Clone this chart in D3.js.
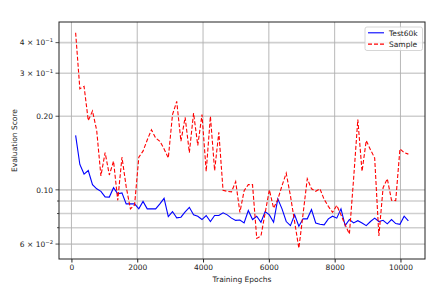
<!DOCTYPE html>
<html>
<head>
<meta charset="utf-8">
<script src="https://cdn.jsdelivr.net/npm/d3@7"></script>
<style>
  body { margin: 0; background: #fff; }
  svg { display: block; font-family: "DejaVu Sans", sans-serif; }
</style>
</head>
<body>
<svg id="chart" width="440" height="291"></svg>
<script>
const epochs = [128, 256, 384, 512, 640, 768, 896, 1024, 1152, 1280,
  1408, 1536, 1664, 1792, 1920, 2048, 2176, 2304, 2432, 2560,
  2688, 2816, 2944, 3072, 3200, 3328, 3456, 3584, 3712, 3840,
  3968, 4096, 4224, 4352, 4480, 4608, 4736, 4864, 4992, 5120,
  5248, 5376, 5504, 5632, 5760, 5888, 6016, 6144, 6272, 6400,
  6528, 6656, 6784, 6912, 7040, 7168, 7296, 7424, 7552, 7680,
  7808, 7936, 8064, 8192, 8320, 8448, 8576, 8704, 8832, 8960,
  9088, 9216, 9344, 9472, 9600, 9728, 9856, 9984, 10112, 10240];

const test60k = [0.167, 0.127, 0.116, 0.120, 0.105, 0.101, 0.0986, 0.0936, 0.0934, 0.102,
  0.0963, 0.0972, 0.0876, 0.0876, 0.0876, 0.0836, 0.0897, 0.0836, 0.0836, 0.0836,
  0.0876, 0.0923, 0.0777, 0.0815, 0.0768, 0.0773, 0.0812, 0.0848, 0.0790, 0.0780,
  0.0756, 0.0785, 0.0742, 0.0785, 0.0785, 0.0805, 0.0790, 0.0766, 0.0750, 0.0753,
  0.0732, 0.0823, 0.0756, 0.0780, 0.0737, 0.0815, 0.0790, 0.0737, 0.0919, 0.0836,
  0.0742, 0.0714, 0.0790, 0.0710, 0.0761, 0.0761, 0.0831, 0.0732, 0.0723, 0.0719,
  0.0761, 0.0780, 0.0766, 0.0836, 0.0714, 0.0756, 0.0732, 0.0748, 0.0732, 0.0714,
  0.0742, 0.0766, 0.0742, 0.0751, 0.0726, 0.0756, 0.0728, 0.0723, 0.0780, 0.0746];

const sample = [0.439, 0.259, 0.265, 0.192, 0.210, 0.175, 0.114, 0.142, 0.115, 0.131,
  0.0906, 0.136, 0.103, 0.0836, 0.0868, 0.136, 0.144, 0.160, 0.176, 0.163,
  0.158, 0.147, 0.135, 0.203, 0.230, 0.158, 0.198, 0.142, 0.206, 0.152,
  0.203, 0.119, 0.200, 0.120, 0.172, 0.0995, 0.0986, 0.0981, 0.108, 0.0809,
  0.0991, 0.105, 0.105, 0.0633, 0.0648, 0.0805, 0.100, 0.0841, 0.0914, 0.104,
  0.117, 0.0945, 0.0739, 0.0577, 0.0797, 0.111, 0.101, 0.0986, 0.101, 0.0914,
  0.0856, 0.0809, 0.0864, 0.0790, 0.0719, 0.0660, 0.111, 0.194, 0.119, 0.159,
  0.146, 0.135, 0.0648, 0.102, 0.111, 0.0906, 0.0904, 0.147, 0.142, 0.140];

const xTicks = [0, 2000, 4000, 6000, 8000, 10000];
const yTicks = [0.06, 0.07, 0.08, 0.09, 0.1, 0.2, 0.3, 0.4];
const yLabels = { 0.06: ["6 × 10", "−2"], 0.1: ["0.10"], 0.2: ["0.20"], 0.3: ["3 × 10", "−1"], 0.4: ["4 × 10", "−1"] };

const series = [
  { name: "Test60k", values: test60k, color: "blue", dash: null },
  { name: "Sample", values: sample, color: "red", dash: "4,2" },
];

const mLeft = 59, mRight = 425, mTop = 22, mBottom = 259;
const FONT = 7.5;

const svg = d3.select("#chart");

// matplotlib style 5% margins
const xExt = d3.extent(epochs);
const xPad = (xExt[1] - xExt[0]) * 0.05;
const x = d3.scaleLinear().domain([xExt[0] - xPad, xExt[1] + xPad]).range([mLeft, mRight]);

const allVals = test60k.concat(sample);
const lMin = Math.log10(d3.min(allVals)), lMax = Math.log10(d3.max(allVals));
const lPad = (lMax - lMin) * 0.05;
const y = d3.scaleLog().domain([Math.pow(10, lMin - lPad), Math.pow(10, lMax + lPad)]).range([mBottom, mTop]);

// grid
svg.append("g").selectAll("line").data(yTicks).enter().append("line")
  .attr("x1", mLeft).attr("x2", mRight)
  .attr("y1", (d) => y(d)).attr("y2", (d) => y(d))
  .attr("stroke", "#cfcfcf").attr("stroke-width", 1.6);

svg.append("g").selectAll("line").data(xTicks).enter().append("line")
  .attr("x1", (d) => x(d)).attr("x2", (d) => x(d))
  .attr("y1", mTop).attr("y2", mBottom)
  .attr("stroke", "#b0b0b0").attr("stroke-width", 0.9);

// lines
const line = (vals) => d3.line().x((d, i) => x(epochs[i])).y((d) => y(d))(vals);
svg.append("g").selectAll("path").data(series).enter().append("path")
  .attr("d", (d) => line(d.values))
  .attr("fill", "none")
  .attr("stroke", (d) => d.color)
  .attr("stroke-width", 1.1)
  .attr("stroke-dasharray", (d) => d.dash);

// frame
svg.append("rect")
  .attr("x", mLeft).attr("y", mTop)
  .attr("width", mRight - mLeft).attr("height", mBottom - mTop)
  .attr("fill", "none").attr("stroke", "#222").attr("stroke-width", 1);

// x axis
const xAxis = d3.axisBottom(x).tickValues(xTicks).tickSize(3.5).tickPadding(2).tickFormat(d3.format("d"));
svg.append("g").attr("transform", `translate(0,${mBottom})`).call(xAxis)
  .call((g) => g.select(".domain").remove())
  .call((g) => g.selectAll("text").attr("font-size", FONT).attr("fill", "#222").attr("font-family", "DejaVu Sans"))
  .call((g) => g.selectAll("line").attr("stroke", "#222"));

// y axis ticks
const yt = svg.append("g");
yt.selectAll("line").data(yTicks).enter().append("line")
  .attr("x1", (d) => mLeft - (yLabels[d] ? 3.5 : 2)).attr("x2", mLeft)
  .attr("y1", (d) => y(d)).attr("y2", (d) => y(d))
  .attr("stroke", "#222").attr("stroke-width", 0.8);

const lab = yt.selectAll("text").data(yTicks.filter((d) => yLabels[d])).enter().append("text")
  .attr("x", mLeft - 6).attr("y", (d) => y(d) + 2.7)
  .attr("text-anchor", "end").attr("font-size", FONT).attr("fill", "#222");
lab.append("tspan").text((d) => yLabels[d][0]);
lab.filter((d) => yLabels[d].length > 1).append("tspan")
  .attr("dy", -3).attr("font-size", 5.3).text((d) => yLabels[d][1]);

// axis titles
svg.append("text").attr("x", (mLeft + mRight) / 2).attr("y", 282)
  .attr("text-anchor", "middle").attr("font-size", FONT).attr("fill", "#222")
  .text("Training Epochs");
svg.append("text")
  .attr("transform", `translate(17,${(mTop + mBottom) / 2}) rotate(-90)`)
  .attr("text-anchor", "middle").attr("font-size", FONT).attr("fill", "#222")
  .text("Evaluation Score");

// legend
const lg = svg.append("g").attr("transform", "translate(365,27)");
lg.append("rect").attr("width", 57.5).attr("height", 23.5).attr("rx", 2)
  .attr("fill", "#fff").attr("fill-opacity", 0.8).attr("stroke", "#ccc").attr("stroke-width", 0.8);
const items = lg.selectAll("g").data(series).enter().append("g")
  .attr("transform", (d, i) => `translate(0,${5.8 + i * 11.3})`);
items.append("line").attr("x1", 3).attr("x2", 19)
  .attr("stroke", (d) => d.color).attr("stroke-width", 1.1)
  .attr("stroke-dasharray", (d) => d.dash);
items.append("text").attr("x", 24).attr("y", 2.7)
  .attr("font-size", FONT).attr("fill", "#222").text((d) => d.name);
</script>
</body>
</html>
